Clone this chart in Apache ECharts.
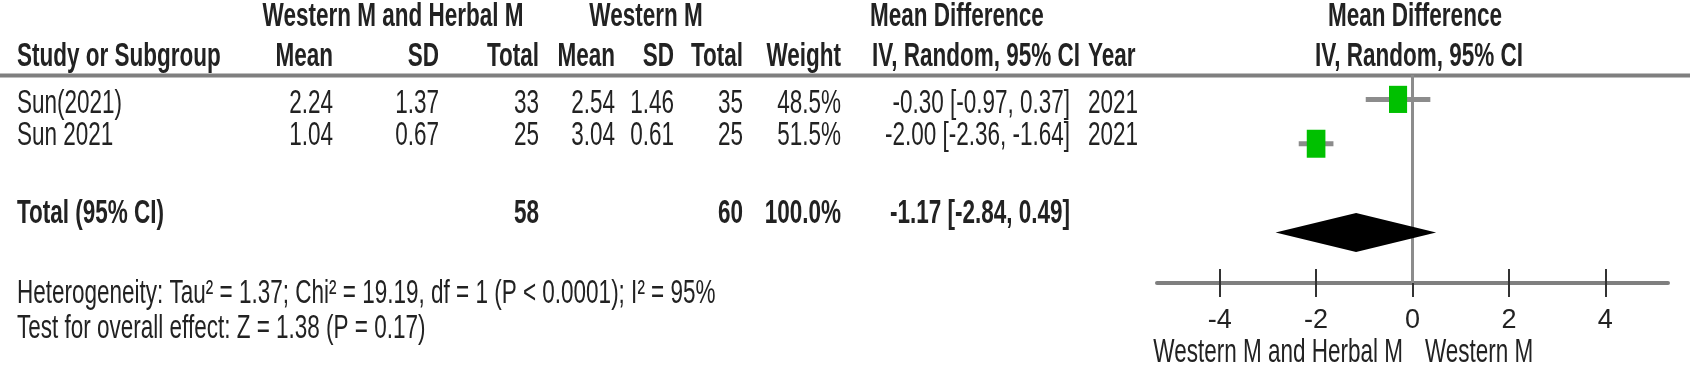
<!DOCTYPE html>
<html><head><meta charset="utf-8">
<script src="https://cdn.jsdelivr.net/npm/echarts@6/dist/echarts.min.js"></script>
<style>html,body{margin:0;padding:0;background:#fff}#c{width:1690px;height:371px}</style>
</head><body><div id="c"></div>
<script>
// ---- data ----
const studies = ['Sun(2021)', 'Sun 2021'];
const hmMean = ['2.24', '1.04'];
const hmSD = ['1.37', '0.67'];
const hmTotal = [33, 25];
const wMean = ['2.54', '3.04'];
const wSD = ['1.46', '0.61'];
const wTotal = [35, 25];
const weights = [48.5, 51.5];
const md = [-0.30, -2.00];
const ciLow = [-0.97, -2.36];
const ciHigh = [0.37, -1.64];
const years = [2021, 2021];
const totalHm = 58, totalW = 60, totalWeight = 100.0;
const pooled = [-1.17, -2.84, 0.49];
const heterogeneity = 'Heterogeneity: Tau\u00B2 = 1.37; Chi\u00B2 = 19.19, df = 1 (P < 0.0001); I\u00B2 = 95%';
const overall = 'Test for overall effect: Z = 1.38 (P = 0.17)';
const xTicks = [-4, -2, 0, 2, 4];
const groupA = 'Western M and Herbal M', groupB = 'Western M';
const headerTop = ['Western M and Herbal M', 'Western M', 'Mean Difference', 'Mean Difference'];
const headerCols = ['Study or Subgroup', 'Mean', 'SD', 'Total', 'Mean', 'SD', 'Total', 'Weight', 'IV, Random, 95% CI', 'Year', 'IV, Random, 95% CI'];

// ---- layout ----
const FS = 22.5, SY = 1.5, COL = '#222', FONT = '"Liberation Sans", Arial, sans-serif';
const X = {study: 17, hmMean: 333, hmSD: 439, hmTotal: 539, wMean: 615, wSD: 674, wTotal: 743, weight: 841, ci: 1070, ciL: 872, year: 1088};
const Y = {h1: 17, h2: 57, r: [104, 136], total: 214, het: 294, test: 329, legend: 353};

function t(text, x, y, align, bold) {
  return {type: 'text', x: x, y: y, scaleY: SY, z: 10,
    style: {text: String(text), fill: COL, fontSize: FS, fontFamily: FONT, fontWeight: bold ? 'bold' : 'normal',
      align: align, verticalAlign: 'middle', textAlign: align, textVerticalAlign: 'middle'}};
}
const fmt = v => v.toFixed(2);
const ciText = (m, l, h) => fmt(m) + ' [' + fmt(l) + ', ' + fmt(h) + ']';

const g = [];
// header
g.push({type: 'line', z: 1, shape: {x1: 0, y1: 75.5, x2: 1690, y2: 75.5}, style: {stroke: '#7f7f7f', lineWidth: 4}});
g.push(t(headerTop[0], 393, Y.h1, 'center', true));
g.push(t(headerTop[1], 646, Y.h1, 'center', true));
g.push(t(headerTop[2], 870, Y.h1, 'left', true));
g.push(t(headerTop[3], 1415, Y.h1, 'center', true));
g.push(t(headerCols[0], X.study, Y.h2, 'left', true));
g.push(t(headerCols[1], X.hmMean, Y.h2, 'right', true));
g.push(t(headerCols[2], X.hmSD, Y.h2, 'right', true));
g.push(t(headerCols[3], X.hmTotal, Y.h2, 'right', true));
g.push(t(headerCols[4], X.wMean, Y.h2, 'right', true));
g.push(t(headerCols[5], X.wSD, Y.h2, 'right', true));
g.push(t(headerCols[6], X.wTotal, Y.h2, 'right', true));
g.push(t(headerCols[7], X.weight, Y.h2, 'right', true));
g.push(t(headerCols[8], X.ciL, Y.h2, 'left', true));
g.push(t(headerCols[9], X.year, Y.h2, 'left', true));
g.push(t(headerCols[10], 1419, Y.h2, 'center', true));
// study rows
studies.forEach((s, i) => {
  const y = Y.r[i];
  g.push(t(s, X.study, y, 'left'));
  g.push(t(hmMean[i], X.hmMean, y, 'right'));
  g.push(t(hmSD[i], X.hmSD, y, 'right'));
  g.push(t(hmTotal[i], X.hmTotal, y, 'right'));
  g.push(t(wMean[i], X.wMean, y, 'right'));
  g.push(t(wSD[i], X.wSD, y, 'right'));
  g.push(t(wTotal[i], X.wTotal, y, 'right'));
  g.push(t(weights[i].toFixed(1) + '%', X.weight, y, 'right'));
  g.push(t(ciText(md[i], ciLow[i], ciHigh[i]), X.ci, y, 'right'));
  g.push(t(years[i], X.year, y, 'left'));
});
// total row
g.push(t('Total (95% CI)', X.study, Y.total, 'left', true));
g.push(t(totalHm, X.hmTotal, Y.total, 'right', true));
g.push(t(totalW, X.wTotal, Y.total, 'right', true));
g.push(t(totalWeight.toFixed(1) + '%', X.weight, Y.total, 'right', true));
g.push(t(ciText(pooled[0], pooled[1], pooled[2]), X.ci, Y.total, 'right', true));
g.push(t(heterogeneity, X.study, Y.het, 'left'));
g.push(t(overall, X.study, Y.test, 'left'));
// axis group labels
g.push(t(groupA, 1403, Y.legend, 'right'));
g.push(t(groupB, 1425, Y.legend, 'left'));

const XMIN = -5.3, XMAX = 5.3, YMIN = -0.55, YMAX = 4.14;
const gridPos = {left: 1157, width: 511, top: 75, height: 208};

const studyData = studies.map((s, i) => [md[i], i, ciLow[i], ciHigh[i], weights[i]]);
const totalRow = 3;

const option = {
  animation: false,
  backgroundColor: '#fff',
  graphic: g,
  grid: [Object.assign({}, gridPos), Object.assign({}, gridPos)],
  xAxis: [
    {type: 'value', gridIndex: 0, min: XMIN, max: XMAX, position: 'bottom',
      axisLine: {show: true, onZero: false, lineStyle: {color: '#7f7f7f', width: 4}},
      axisTick: {show: true, inside: false, length: 14, customValues: xTicks, lineStyle: {color: '#333', width: 2}},
      axisLabel: {show: true, customValues: xTicks, fontSize: 27, color: COL, margin: 24,
        fontFamily: '"Liberation Sans Narrow", "Liberation Sans", Arial, sans-serif'},
      splitLine: {show: false}},
    {type: 'value', gridIndex: 1, min: XMIN, max: XMAX, position: 'bottom',
      axisLine: {show: false, onZero: false},
      axisTick: {show: true, inside: true, length: 14, customValues: xTicks, lineStyle: {color: '#333', width: 2}},
      axisLabel: {show: false}, splitLine: {show: false}}
  ],
  yAxis: [
    {type: 'value', gridIndex: 0, min: YMIN, max: YMAX, inverse: true, show: false},
    {type: 'value', gridIndex: 1, min: YMIN, max: YMAX, inverse: true, show: false}
  ],
  series: [
    {type: 'line', xAxisIndex: 0, yAxisIndex: 0, data: [[0, YMIN], [0, YMAX]], symbol: 'none',
      lineStyle: {color: '#8c8c8c', width: 3}, z: 1, silent: true},
    {type: 'custom', xAxisIndex: 0, yAxisIndex: 0, data: studyData, z: 3,
      renderItem: function (params, api) {
        const c = api.coord([api.value(0), api.value(1)]);
        const lo = api.coord([api.value(2), api.value(1)]);
        const hi = api.coord([api.value(3), api.value(1)]);
        const w = api.value(4);
        const bw = 2.6 * Math.sqrt(w), bh = 3.9 * Math.sqrt(w);
        return {type: 'group', children: [
          {type: 'line', shape: {x1: lo[0], y1: lo[1], x2: hi[0], y2: hi[1]}, style: {stroke: '#8c8c8c', lineWidth: 5}},
          {type: 'rect', shape: {x: c[0] - bw / 2, y: c[1] - bh / 2, width: bw, height: bh}, style: {fill: '#00c000'}}
        ]};
      }},
    {type: 'custom', xAxisIndex: 0, yAxisIndex: 0, data: [[pooled[0], totalRow, pooled[1], pooled[2]]], z: 3,
      renderItem: function (params, api) {
        const c = api.coord([api.value(0), api.value(1)]);
        const lo = api.coord([api.value(2), api.value(1)]);
        const hi = api.coord([api.value(3), api.value(1)]);
        const h = 19.5;
        return {type: 'polygon', shape: {points: [lo, [c[0], c[1] - h], hi, [c[0], c[1] + h]]}, style: {fill: '#000'}};
      }}
  ]
};
const chart = echarts.init(document.getElementById('c'), null, {renderer: 'canvas'});
chart.setOption(option);
</script></body></html>
